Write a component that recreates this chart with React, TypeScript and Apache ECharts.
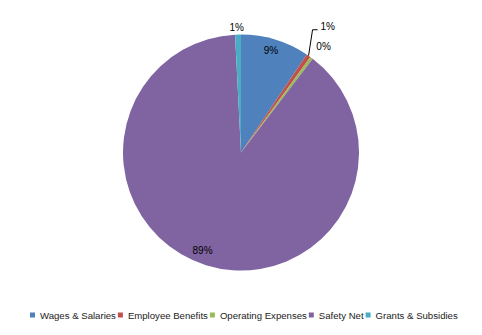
import React, { useEffect, useRef } from "react";
import * as echarts from "echarts";

const categories = ["Wages & Salaries", "Employee Benefits", "Operating Expenses", "Safety Net", "Grants & Subsidies"];
const values = [9.4, 0.6, 0.4, 88.8, 0.8];
const colors = ["#4F81BD", "#C0504D", "#9BBB59", "#8064A2", "#4BACC6"];
const insideLabeled = ["Wages & Salaries", "Safety Net"];

export default function App() {
  const ref = useRef<HTMLDivElement>(null);
  useEffect(() => {
    document.body.style.margin = "0";
    const chart = echarts.init(ref.current!, undefined, { renderer: "svg" });
    const fmt = (p: any) => Math.round(p.percent) + "%";
    const textStyle = { fontFamily: "Liberation Sans, Arial, sans-serif", fontSize: 10, color: "#000" };
    const mainData = categories.map((name, i) => {
      const inside = insideLabeled.includes(name);
      const item: any = { name, value: values[i], itemStyle: { color: colors[i] } };
      if (inside) {
        item.label = { show: false };
        item.labelLine = { show: false };
      } else if (name === "Employee Benefits") {
        item.label = { show: true, position: "outside" };
        item.labelLine = { show: true, length: 22, length2: 6, lineStyle: { color: "#000", width: 1 } };
      } else if (name === "Operating Expenses") {
        item.label = { show: true, position: "outside" };
        item.labelLine = { show: false, length: 8, length2: 0 };
      } else {
        item.label = { show: true, position: "outside" };
        item.labelLine = { show: false, length: 4, length2: 0 };
      }
      return item;
    });
    const overlayData = categories.map((name, i) => ({
      name,
      value: values[i],
      itemStyle: { color: "rgba(0,0,0,0)" },
      label: { show: insideLabeled.includes(name) },
    }));
    chart.setOption({
      animation: false,
      legend: {
        bottom: 10,
        left: 25,
        itemWidth: 5,
        itemHeight: 5,
        itemGap: 2,
        icon: "rect",
        data: categories,
        textStyle: { ...textStyle, fontSize: 9.6, color: "#222" },
      },
      series: [
        {
          type: "pie",
          center: [241, 152.5],
          radius: 118,
          startAngle: 90,
          clockwise: true,
          avoidLabelOverlap: false,
          data: mainData,
          label: { ...textStyle, formatter: fmt },
          itemStyle: { borderWidth: 0 },
          emphasis: { disabled: true },
          labelLayout: (p: any) => {
            const name = categories[p.dataIndex];
            if (name === "Grants & Subsidies") return { dx: 11, dy: -3 };
            if (name === "Operating Expenses") return { dx: -5, dy: -5 };
            if (name === "Employee Benefits" && p.labelLinePoints) {
              const p0 = p.labelLinePoints[0];
              return {
                x: p0[0] + 12,
                y: p0[1] - 29,
                align: "left",
                verticalAlign: "middle",
                labelLinePoints: [p0, [p0[0] + 4, p0[1] - 26], [p0[0] + 9, p0[1] - 26]],
              };
            }
            return {};
          },
        },
        {
          type: "pie",
          center: [241, 152.5],
          radius: [88, 118],
          startAngle: 90,
          clockwise: true,
          silent: true,
          avoidLabelOverlap: false,
          data: overlayData,
          label: { ...textStyle, position: "inside", formatter: fmt },
          labelLine: { show: false },
          itemStyle: { borderWidth: 0 },
          emphasis: { disabled: true },
          labelLayout: (p: any) => {
            const name = categories[p.dataIndex];
            if (name === "Safety Net") return { dx: -7, dy: -3 };
            if (name === "Wages & Salaries") return { dx: -1, dy: -1 };
            return {};
          },
        },
      ],
    });
    return () => chart.dispose();
  }, []);
  return <div ref={ref} style={{ width: 482, height: 335 }} />;
}
